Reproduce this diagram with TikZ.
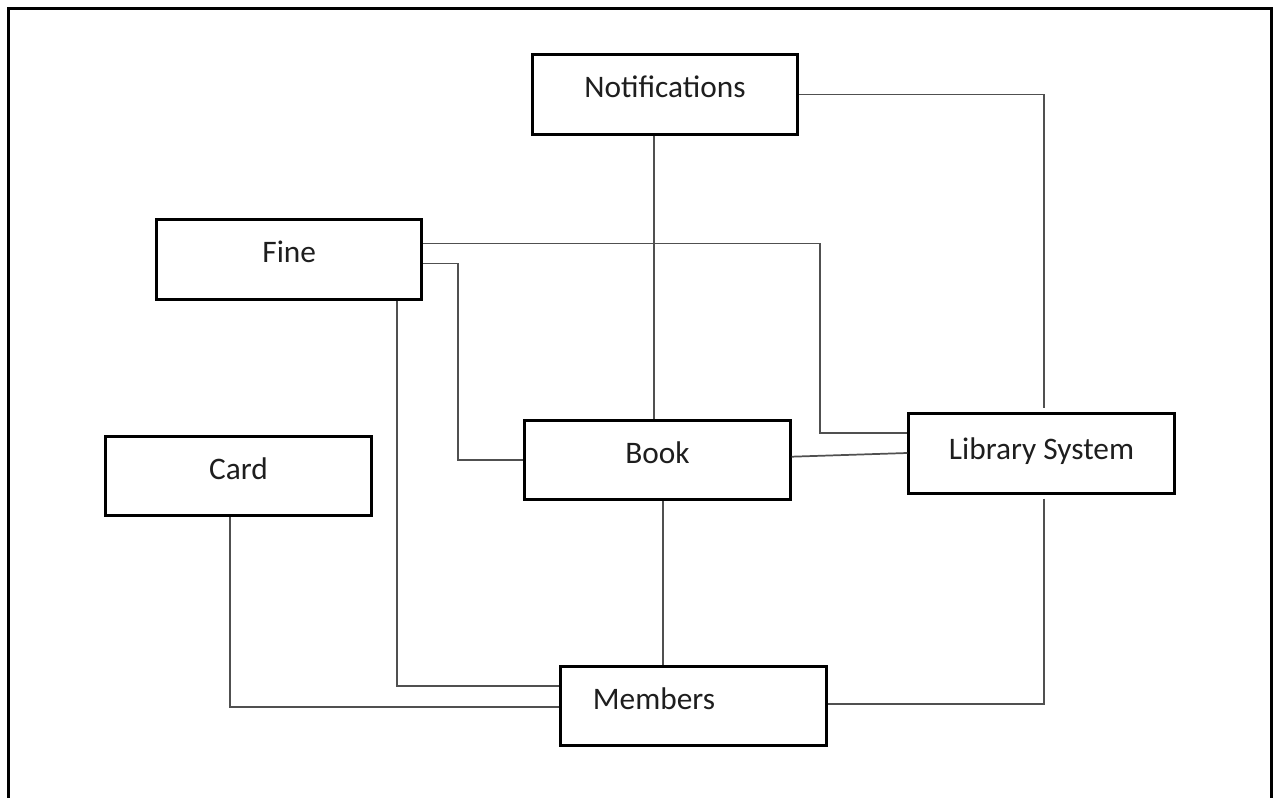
\documentclass[tikz,border=0pt]{standalone}
\usepackage{fontspec}
\setmainfont{Carlito}
\usetikzlibrary{calc}
\definecolor{wirecol}{RGB}{80,80,80}
\definecolor{inkcol}{RGB}{30,30,30}
\begin{document}
\begin{tikzpicture}[x=0.75pt,y=-0.75pt,
  box/.style={draw=black, line width=2.25pt, fill=white, rectangle,
    minimum width=199pt, minimum height=59.5pt, inner sep=0pt, text=inkcol,
    font=\fontsize{23.5}{27}\selectfont, text height=16pt, text depth=11.5pt},
  lbl/.style={inner sep=0pt, text=inkcol, font=\fontsize{23.5}{27}\selectfont,
    text height=16pt, text depth=11.5pt},
  wire/.style={draw=wirecol, line width=1.3pt},
  frame/.style={draw=black, line width=2.25pt}]
\useasboundingbox (0,0) rectangle (1273,798);

% outer frame, open at the bottom
\draw[frame] (8.5,798) -- (8.5,8.7) -- (1271.8,8.7) -- (1271.8,798);

% entity boxes
\node[box] (notif) at (665,94.6) {Notifications};
\node[box] (fine) at (289.2,259.5) {Fine};
\node[box] (card) at (238.5,476) {Card};
\node[box] (book) at (657.5,460.3) {Book};
\node[box, text depth=7.3pt] (lib) at (1041.5,453.5) {Library System};
\node[box] (members) at (693.5,706) {};
\node[lbl] (membersT) at (654,706) {Members};

% connectors
\coordinate (nb) at ($(notif.south)+(-10.7,0)$);
\draw[wire] (nb) -- (nb |- book.north);
\draw[wire] (notif.east) -| ($(lib.north)+(2.5,-4)$);

\coordinate (k1) at (820.3,433);
\draw[wire] ($(fine.east)+(0,-16)$) -| (k1) -- (k1 -| lib.west);
\draw[wire] ($(fine.east)+(0,4)$) -| ($(book.west)+(-65,0)$) -- (book.west);
\draw[wire] ($(fine.south)+(108.1,0)$) |- ($(members.west)+(0,-20)$);

\draw[wire] ($(card.south)+(-8.5,0)$) |- ($(members.west)+(0,0.7)$);

\draw[wire] ($(book.east)+(0,-3.6)$) -- ($(lib.west)+(0,-0.5)$);
\coordinate (bk) at ($(book.south)+(5.2,0)$);
\draw[wire] (bk) -- (bk |- members.north);

\draw[wire] ($(lib.south)+(2.5,4)$) |- ($(members.east)+(0,-2)$);
\end{tikzpicture}
\end{document}
